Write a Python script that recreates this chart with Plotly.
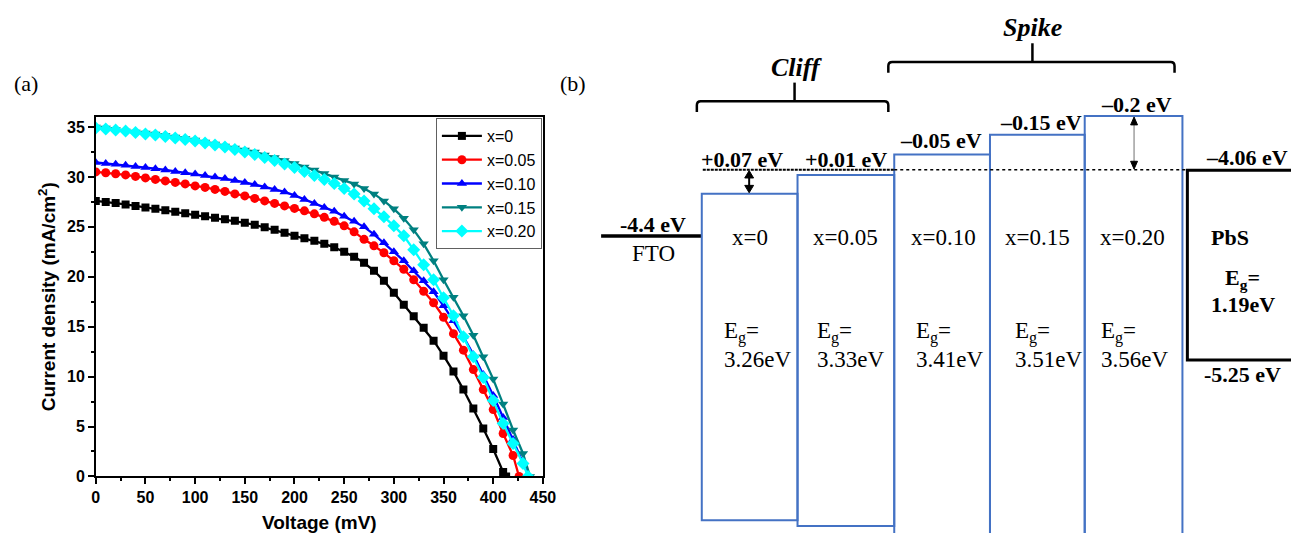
import plotly.graph_objects as go

W, H = 1304, 542

# ---------------- panel (a) data: J-V curves ----------------
V_GRID = [0, 10, 20, 30, 40, 50, 60, 70, 80, 90, 100, 110, 120, 130, 140, 150,
          160, 170, 180, 190, 200, 210, 220, 230, 240, 250, 260, 270, 280, 290,
          300, 310, 320, 330, 340, 350, 360, 370, 380, 390, 400, 410, 420, 430]

V_X000 = V_GRID[:42] + [413]
J_X000 = [27.6, 27.5, 27.4, 27.25, 27.1, 26.95, 26.8, 26.65, 26.5, 26.35, 26.2,
          26.05, 25.9, 25.75, 25.6, 25.4, 25.2, 24.95, 24.7, 24.4, 24.1, 23.85,
          23.6, 23.3, 22.95, 22.5, 22.0, 21.4, 20.6, 19.6, 18.4, 17.2, 16.05,
          14.9, 13.6, 12.1, 10.5, 8.7, 6.8, 4.8, 2.75, 0.45, 0.0]

V_X005 = V_GRID[:43] + [426]
J_X005 = [30.5, 30.42, 30.32, 30.2, 30.05, 29.9, 29.75, 29.6, 29.45, 29.3, 29.1,
          28.95, 28.75, 28.55, 28.3, 28.1, 27.85, 27.6, 27.35, 27.1, 26.85, 26.6,
          26.3, 25.95, 25.55, 25.1, 24.5, 23.75, 23.1, 22.4, 21.6, 20.75, 19.7,
          18.55, 17.4, 15.95, 14.3, 12.65, 10.7, 8.7, 6.7, 4.3, 2.1, 0.0]

V_X010 = V_GRID[:44] + [436]
J_X010 = [31.45, 31.35, 31.27, 31.18, 31.05, 30.95, 30.83, 30.7, 30.55, 30.42,
          30.3, 30.15, 30.0, 29.85, 29.65, 29.45, 29.25, 29.0, 28.75, 28.5, 28.15,
          27.75, 27.35, 26.95, 26.55, 26.05, 25.55, 25.0, 24.25, 23.4, 22.5, 21.6,
          20.6, 19.6, 18.5, 17.1, 15.6, 14.0, 12.2, 10.2, 8.1, 5.9, 3.7, 1.5, 0.0]

V_X015 = V_GRID[:44] + [437]
J_X015 = [35.0, 34.9, 34.75, 34.6, 34.5, 34.4, 34.3, 34.15, 34.0, 33.85, 33.7,
          33.5, 33.3, 33.1, 32.9, 32.7, 32.5, 32.2, 31.95, 31.65, 31.35, 31.0,
          30.7, 30.35, 30.0, 29.65, 29.3, 28.85, 28.3, 27.6, 26.8, 25.85, 24.7,
          23.3, 21.6, 19.7, 17.95, 16.1, 14.15, 12.0, 9.75, 7.25, 4.65, 2.3, 0.0]

V_X020 = V_GRID[:44] + [435]
J_X020 = [34.9, 34.8, 34.7, 34.6, 34.45, 34.3, 34.2, 34.05, 33.9, 33.75, 33.6,
          33.4, 33.2, 33.0, 32.75, 32.5, 32.25, 31.95, 31.65, 31.3, 30.95, 30.55,
          30.15, 29.75, 29.35, 28.85, 28.3, 27.6, 26.8, 26.0, 25.1, 24.1, 22.7,
          21.2, 19.7, 17.9, 16.1, 14.0, 12.0, 9.9, 7.6, 5.3, 3.3, 1.3, 0.0]

SERIES_NAMES = ["x=0", "x=0.05", "x=0.10", "x=0.15", "x=0.20"]

# ---------------- panel (b) data: band alignment ----------------
COMPOSITIONS = ["x=0", "x=0.05", "x=0.10", "x=0.15", "x=0.20"]
CB_OFFSETS = ["+0.07 eV", "+0.01 eV", "\u20130.05 eV", "\u20130.15 eV", "\u20130.2 eV"]
BAND_GAPS = ["3.26eV", "3.33eV", "3.41eV", "3.51eV", "3.56eV"]
FTO_LEVEL = "-4.4 eV"
PBS_CB = "\u20134.06 eV"
PBS_VB = "-5.25 eV"
PBS_GAP = "1.19eV"

# ---------------- styles ----------------
SANS = "Liberation Sans, Arial, sans-serif"
SERIF = "Liberation Serif, Times New Roman, serif"
COLORS = ["#000000", "#ff0000", "#0000ff", "#008080", "#00ffff"]
SYMBOLS = ["square", "circle", "triangle-up", "triangle-down", "diamond"]
SIZES = [8, 9, 9, 9, 10]
BLUE = "#4472c4"

fig = go.Figure()

curves = [(V_X000, J_X000), (V_X005, J_X005), (V_X010, J_X010),
          (V_X015, J_X015), (V_X020, J_X020)]
for (v, j), name, c, s, sz in zip(curves, SERIES_NAMES, COLORS, SYMBOLS, SIZES):
    fig.add_trace(go.Scatter(
        x=v, y=j, mode="lines+markers", name=name,
        line=dict(color=c, width=2.3),
        marker=dict(symbol=s, size=sz, color=c, line=dict(width=0)),
        xaxis="x", yaxis="y"))

# schematic layout positions for panel (b) (diagram frame in pixels)
BOX_L = [707, 804, 902, 999, 1095]
BOX_R = [804, 902, 999, 1095, 1194]
BOX_T = [197, 178, 157, 137, 118]
BOX_B = [529, 535, 560, 560, 560]
LABEL_X = [748, 853, 949, 1051, 1147]
LABEL_Y = [162, 162, 143, 125, 106]
COMP_X = [756, 853, 952, 1047, 1143]
EG_X = [727, 822, 922, 1022, 1109]
DOT_Y = 172.5

fig.add_trace(go.Scatter(x=[605, 707], y=[240, 240], mode="lines",
                         line=dict(color="black", width=3.5),
                         xaxis="x2", yaxis="y2", showlegend=False,
                         hoverinfo="skip"))

shapes = []
def path(p, color="black", width=2.5, fill=None):
    d = dict(type="path", xref="x2", yref="y2", path=p, line=dict(color=color, width=width))
    if fill:
        d["fillcolor"] = fill
    shapes.append(d)

for l, r, t, b in zip(BOX_L, BOX_R, BOX_T, BOX_B):
    shapes.append(dict(type="rect", xref="x2", yref="y2", x0=l, x1=r, y0=t, y1=b,
                       line=dict(color=BLUE, width=2), fillcolor="rgba(0,0,0,0)"))
shapes.append(dict(type="line", xref="x2", yref="y2", x0=708, x1=902, y0=DOT_Y, y1=DOT_Y,
                   line=dict(color="black", width=2, dash="3px,1px")))
shapes.append(dict(type="line", xref="x2", yref="y2", x0=902, x1=1199, y0=DOT_Y, y1=DOT_Y,
                   line=dict(color="black", width=1.5, dash="dot")))
path("M 1330,173 L 1199,173 L 1199,366 L 1330,366", width=3)
# brackets
path("M 702,114 L 702,107 Q 702,103 706,103 L 892,103 Q 896,103 896,107 L 896,114")
path("M 801,103 L 801,84")
path("M 896,74 L 896,67 Q 896,63 900,63 L 1182,63 Q 1186,63 1186,67 L 1186,74")
path("M 1042,63 L 1042,44")
# double arrow for x=0 offset
path("M 755,180 L 755,190", width=2)
path("M 755,173.5 L 750.5,181 L 759.5,181 Z", width=1, fill="black")
path("M 755,196 L 750.5,188.5 L 759.5,188.5 Z", width=1, fill="black")
# double arrow for x=0.20 offset
path("M 1145,124 L 1145,167", color="#a0a0a0", width=1.5)
path("M 1145,119 L 1141.5,127 L 1148.5,127 Z", width=1, fill="black")
path("M 1145,172 L 1141.5,164 L 1148.5,164 Z", width=1, fill="black")

ann = []
def txt(x, y, s, size=23, bold=False, italic=False, family=SERIF, xa="center"):
    ann.append(dict(x=x, y=y, xref="x2", yref="y2", text=s, showarrow=False,
                    xanchor=xa, yanchor="middle",
                    font=dict(family=family, size=size, color="black",
                              weight="bold" if bold else "normal",
                              style="italic" if italic else "normal")))

for xc, y, s in zip(LABEL_X, LABEL_Y, CB_OFFSETS):
    txt(xc, y, s, size=22, bold=True)
for xc, s in zip(COMP_X, COMPOSITIONS):
    txt(xc, 242, s)
for xl, g in zip(EG_X, BAND_GAPS):
    txt(xl, 338, "E<sub>g</sub>=", xa="left")
    txt(xl, 366, g, xa="left")
txt(658, 228, FTO_LEVEL, size=22, bold=True)
txt(658, 258, "FTO")
txt(1259, 160, PBS_CB, size=22, bold=True)
txt(1255, 381, PBS_VB, size=22, bold=True)
txt(1242, 242, "PbS", size=22, bold=True)
txt(1255, 284, "E<sub>g</sub>=", size=22, bold=True)
txt(1255, 310, PBS_GAP, size=22, bold=True)
txt(803, 69, "Cliff", size=26, bold=True, italic=True)
txt(1042, 28, "Spike", size=26, bold=True, italic=True)
txt(22, 85, "(a)", size=22)
txt(577, 85, "(b)", size=22)

axis_common = dict(showgrid=False, zeroline=False, showline=True, linecolor="black",
                   linewidth=1.5, mirror=True, ticks="outside", ticklen=6, tickwidth=1.5,
                   tickcolor="black",
                   tickfont=dict(family=SANS, size=16, color="black", weight="bold"))

fig.update_layout(
    width=W, height=H, margin=dict(l=0, r=0, t=0, b=0),
    paper_bgcolor="white", plot_bgcolor="rgba(0,0,0,0)",
    xaxis=dict(domain=[93 / W, 546 / W], range=[0, 450], anchor="y",
               tick0=0, dtick=50,
               minor=dict(ticks="outside", ticklen=3, dtick=25, tickcolor="black", tickwidth=1.5),
               title=dict(text="<b>Voltage (mV)</b>", standoff=10,
                          font=dict(family=SANS, size=19, color="black")),
               **axis_common),
    yaxis=dict(domain=[(H - 484.5) / H, (H - 119) / H], range=[0, 36], anchor="x",
               tick0=0, dtick=5,
               minor=dict(ticks="outside", ticklen=3, dtick=2.5, tickcolor="black", tickwidth=1.5),
               title=dict(text="<b>Current density (mA/cm<sup>2</sup>)</b>", standoff=6,
                          font=dict(family=SANS, size=19, color="black")),
               **axis_common),
    xaxis2=dict(domain=[0, 1], range=[0, W], anchor="y2", visible=False, fixedrange=True),
    yaxis2=dict(domain=[0, 1], range=[H, 0], anchor="x2", visible=False, fixedrange=True),
    legend=dict(x=545 / W, y=(H - 120) / H, xanchor="right", yanchor="top",
                bgcolor="white", bordercolor="#606060", borderwidth=1,
                font=dict(family=SANS, size=16, color="black"), tracegroupgap=0,
                itemwidth=40),
    shapes=shapes, annotations=ann,
)

fig.write_html("out.html", config={"displayModeBar": False},
               post_script="document.body.style.margin='0px';document.body.style.overflow='hidden';")
